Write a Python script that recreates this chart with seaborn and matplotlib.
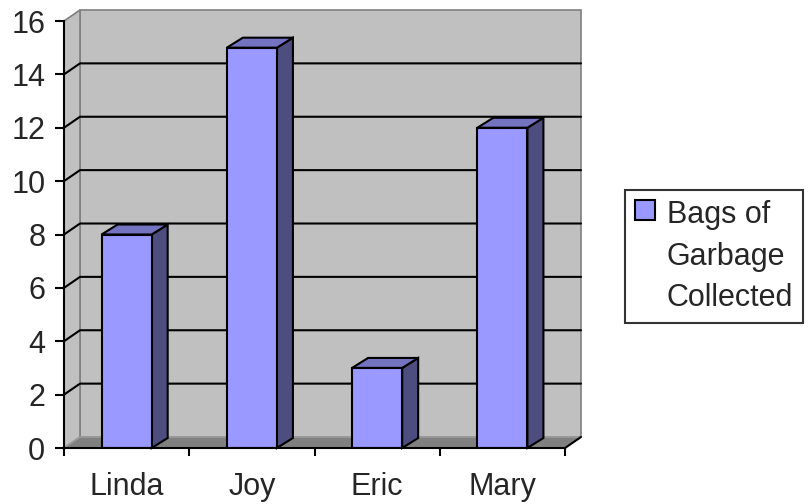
import matplotlib
matplotlib.use("Agg")
import matplotlib.pyplot as plt
import seaborn as sns
import pandas as pd
from matplotlib.patches import Polygon, Rectangle

# Chart data
names = ["Linda", "Joy", "Eric", "Mary"]
bags = [8, 15, 3, 12]
y_ticks = [0, 2, 4, 6, 8, 10, 12, 14, 16]
series_label = "Bags of\nGarbage\nCollected"

sns.set_style("white")
plt.rcParams["font.family"] = ["Liberation Sans", "DejaVu Sans"]

W, H = 808, 504
fig = plt.figure(figsize=(W / 100, H / 100), dpi=100)
ax = fig.add_axes([64 / W, 56 / H, 501 / W, 427 / H])

df = pd.DataFrame({"name": names, "bags": bags})
sns.barplot(data=df, x="name", y="bags", color="#9999ff", saturation=1,
            width=0.4, edgecolor="black", linewidth=1.5, ax=ax, zorder=5)
bars = list(ax.patches)

ax.set_xlim(-0.5, len(names) - 0.5)
ax.set_ylim(y_ticks[0], y_ticks[-1])
ax.set_xlabel("")
ax.set_ylabel("")
ax.patch.set_visible(False)

# depth of the pseudo-3D box, expressed in data units
px_per_x = ax.bbox.width / (ax.get_xlim()[1] - ax.get_xlim()[0])
px_per_y = ax.bbox.height / (ax.get_ylim()[1] - ax.get_ylim()[0])
dx = 16 / px_per_x
dy = 11 / px_per_y
bdy = 10 / px_per_y

x_lo, x_hi = ax.get_xlim()
y_lo, y_hi = ax.get_ylim()

# back wall, side wall and floor
ax.add_patch(Rectangle((x_lo + dx, y_lo + dy), x_hi - x_lo, y_hi - y_lo,
                       fc="#c0c0c0", ec="#808080", lw=1.2, zorder=0, clip_on=False))
ax.add_patch(Polygon([(x_lo, y_lo), (x_lo, y_hi), (x_lo + dx, y_hi + dy), (x_lo + dx, y_lo + dy)],
                     closed=True, fc="#c0c0c0", ec="#808080", lw=1.2, zorder=0, clip_on=False))
ax.add_patch(Polygon([(x_lo, y_lo), (x_hi, y_lo), (x_hi + dx, y_lo + dy), (x_lo + dx, y_lo + dy)],
                     closed=True, fc="#808080", ec="#a0a0a0", lw=1.0, zorder=1, clip_on=False))
ax.plot([x_hi, x_hi + dx], [y_lo, y_lo + dy], color="black", lw=1.5, zorder=2, clip_on=False)

# gridlines running across the side wall and the back wall
for v in y_ticks[1:-1]:
    ax.plot([x_lo, x_lo + dx, x_hi + dx], [v, v + dy, v + dy], color="black",
            lw=1.5, zorder=0.5, clip_on=False)

# side and top faces of each bar
for p in bars:
    x0 = p.get_x()
    x1 = x0 + p.get_width()
    h = p.get_height()
    ax.add_patch(Polygon([(x1, 0), (x1 + dx, bdy), (x1 + dx, h + bdy), (x1, h)], closed=True,
                         fc="#4d4d80", ec="black", lw=1.5, zorder=4, clip_on=False))
    ax.add_patch(Polygon([(x0, h), (x0 + dx, h + bdy), (x1 + dx, h + bdy), (x1, h)], closed=True,
                         fc="#7373bf", ec="black", lw=1.5, zorder=4, clip_on=False))

# axes
for s in ["top", "right"]:
    ax.spines[s].set_visible(False)
for s in ["left", "bottom"]:
    ax.spines[s].set_color("black")
    ax.spines[s].set_linewidth(1.5)
    ax.spines[s].set_zorder(6)

ax.set_yticks(y_ticks)
ax.set_yticklabels([str(v) for v in y_ticks])
ax.tick_params(axis="y", direction="out", length=6.5, width=1.5, color="black",
               labelsize=22, pad=7, left=True)
ax.set_xticks(range(len(names)))
ax.set_xticklabels(names)
ax.set_xticks([i - 0.5 for i in range(len(names) + 1)], minor=True)
ax.tick_params(axis="x", which="major", length=0, labelsize=22, pad=17)
ax.tick_params(axis="x", which="minor", direction="out", length=6, width=1.5,
               color="black", bottom=True)

# legend
handle = Rectangle((0, 0), 1, 1, fc="#9999ff", ec="black", lw=1.5)
leg = fig.legend([handle], [series_label], loc="upper left",
                 bbox_to_anchor=(625 / W, 1 - 190 / H), fontsize=22,
                 frameon=True, fancybox=False, edgecolor="black",
                 handlelength=0.65, handleheight=0.65, handletextpad=0.39,
                 borderpad=0.33, borderaxespad=0)
leg.get_frame().set_linewidth(1.5)
for t in leg.get_texts():
    t.set_linespacing(1.5)
for col in leg._legend_handle_box.get_children():
    for row in col.get_children():
        row.align = "top"

fig.savefig("out.png", dpi=100)
